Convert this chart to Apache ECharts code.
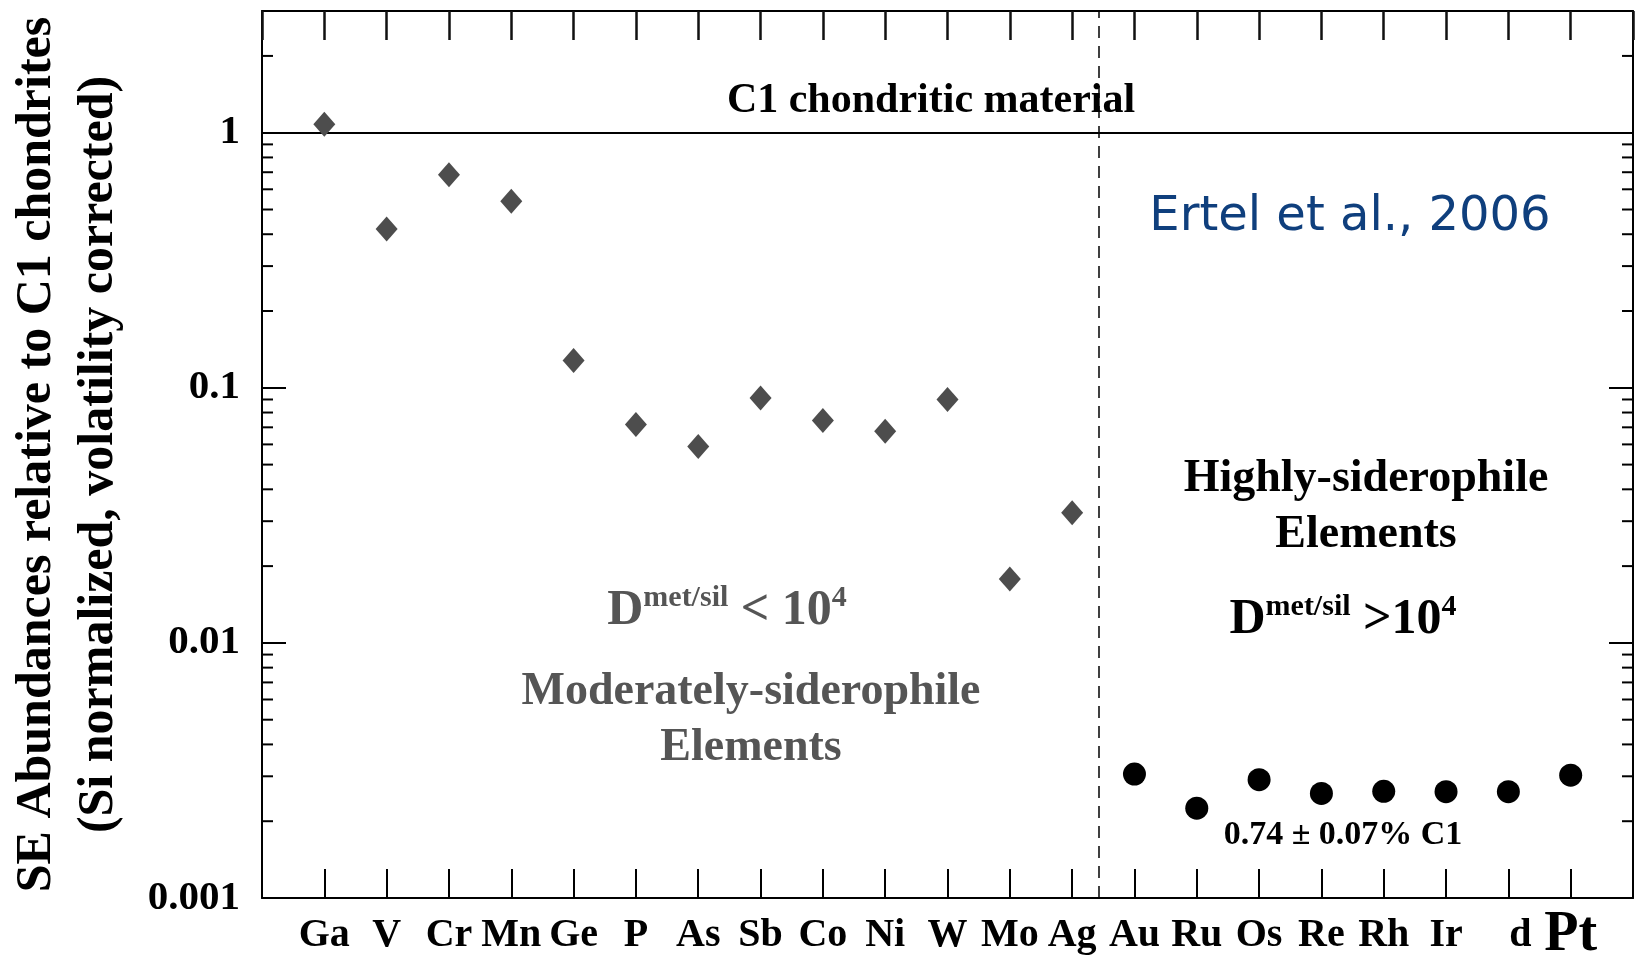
<!DOCTYPE html>
<html><head><meta charset="utf-8">
<script src="https://cdn.jsdelivr.net/npm/echarts@6/dist/echarts.min.js"></script>
<style>html,body{margin:0;padding:0;background:#fff}#c{width:1638px;height:957px}</style>
</head><body><div id="c"></div>
<script>
// ---- data ----
const elements = ['Ga','V','Cr','Mn','Ge','P','As','Sb','Co','Ni','W','Mo','Ag','Au','Ru','Os','Re','Rh','Ir','d','Pt'];
const moderateElements = ['Ga','V','Cr','Mn','Ge','P','As','Sb','Co','Ni','W','Mo','Ag'];
const moderateValues = [1.079,0.419,0.685,0.539,0.128,0.0718,0.0589,0.0912,0.0744,0.0676,0.0899,0.0178,0.0324];
const highlyElements = ['Au','Ru','Os','Re','Rh','Ir','d','Pt'];
const highlyValues = [0.00306,0.00225,0.00291,0.00257,0.00262,0.00261,0.00261,0.00303];
const yTickLabels = ['0.001','0.01','0.1','1'];
const yMin = 0.001, yMax = 3;
const minorMultipliers = [2,3,4,5,6,7,8,9];
const decades = [0.001,0.01,0.1,1];
const c1Level = 1;
const boundaryX = 12.43;

// ---- build ----
const serif = 'Liberation Serif';
const modData = moderateValues.map((v,i)=>[elements.indexOf(moderateElements[i]), v]);
const hsData = highlyValues.map((v,i)=>[elements.indexOf(highlyElements[i]), v]);
const minorData = [];
decades.forEach(d => minorMultipliers.forEach(m => { if (d*m < yMax) minorData.push([-1, d*m]); }));

const xLabel = v => {
  if (v < 0 || v >= elements.length || v !== Math.round(v)) return '';
  const n = elements[v];
  if (n === 'Pt') return '{pt|Pt}';
  if (n === 'd') return '{pd|d}';
  return n;
};
const yLabel = v => {
  const l = Math.log10(v), k = Math.round(l);
  if (Math.abs(l - k) > 1e-6) return '';
  return yTickLabels[k + 3] || '';
};

const mkX = (pos) => ({
  type:'value', min:-1, max:21, interval:1, position:pos, gridIndex:0,
  axisLine:{show:true, onZero:false, lineStyle:{color:'#000', width:2}},
  axisTick:{show:true, inside:true, length:29, lineStyle:{color:'#000', width:2}},
  splitLine:{show:false}
});
const mkY = (pos) => ({
  type:'log', logBase:10, min:yMin, max:yMax, position:pos, gridIndex:0,
  axisLine:{show:true, onZero:false, lineStyle:{color:'#000', width:2}},
  axisTick:{show:true, inside:true, length:24, lineStyle:{color:'#000', width:2}},
  splitLine:{show:false}, minorTick:{show:false}
});
const lblFont = {fontFamily:serif, fontWeight:'bold', color:'#000'};

const xBottom = mkX('bottom');
xBottom.axisLabel = Object.assign({show:true, formatter:xLabel, margin:18, fontSize:40, lineHeight:40,
  rich:{
    pt:Object.assign({fontSize:56, lineHeight:40}, lblFont),
    pd:Object.assign({fontSize:40, lineHeight:40, padding:[0,0,0,24]}, lblFont)
  }}, lblFont);
const xTop = mkX('top');
xTop.axisLabel = {show:false};
xTop.axisTick = {show:true, inside:true, length:29, lineStyle:{color:'#111', width:2.5}};

const yLeft = mkY('left');
yLeft.axisLabel = Object.assign({show:true, formatter:yLabel, margin:22, fontSize:41, showMaxLabel:false}, lblFont);
yLeft.name = 'SE Abundances relative to C1 chondrites\n(Si normalized, volatility corrected)';
yLeft.nameLocation = 'middle';
yLeft.nameRotate = 90;
yLeft.nameGap = 132;
yLeft.nameTextStyle = {fontFamily:serif, fontWeight:'bold', fontSize:50, lineHeight:62, color:'#000'};
const yRight = mkY('right');
yRight.axisLabel = {show:false};

const chart = echarts.init(document.getElementById('c'));
chart.setOption({
  animation:false,
  backgroundColor:'#fff',
  grid:{left:262, top:11, width:1371, height:887, containLabel:false, outerBoundsMode:'none'},
  xAxis:[xBottom, xTop],
  yAxis:[yLeft, yRight],
  series:[
    {type:'scatter', name:'Moderately-siderophile', xAxisIndex:0, yAxisIndex:0, data:modData,
      symbol:'diamond', symbolSize:[22,25], itemStyle:{color:'#4d4d4d', opacity:1}, z:5,
      markLine:{silent:true, symbol:['none','none'], label:{show:false},
        data:[
          {yAxis:c1Level, lineStyle:{color:'#000', width:2, type:'solid'}},
          {xAxis:boundaryX, lineStyle:{color:'#000', width:1.5, type:[12,8]}}
        ]}},
    {type:'scatter', name:'Highly-siderophile', xAxisIndex:0, yAxisIndex:0, data:hsData,
      symbol:'circle', symbolSize:23, itemStyle:{color:'#000', opacity:1}, z:5},
    {type:'custom', name:'minorTicks', xAxisIndex:0, yAxisIndex:0, data:minorData, silent:true, z:3,
      renderItem:(params, api) => {
        const cs = params.coordSys;
        const y = api.coord([api.value(0), api.value(1)])[1];
        const st = {stroke:'#000', lineWidth:2};
        return {type:'group', children:[
          {type:'line', shape:{x1:cs.x, y1:y, x2:cs.x+11, y2:y}, style:st},
          {type:'line', shape:{x1:cs.x+cs.width-11, y1:y, x2:cs.x+cs.width, y2:y}, style:st}
        ]};
      }}
  ],
  graphic:[
    {type:'text', x:931, y:101, style:{text:'C1 chondritic material', font:'bold 42px "Liberation Serif"', fill:'#000', align:'center', verticalAlign:'middle'}},
    {type:'text', x:1350, y:218, style:{text:'Ertel et al., 2006', font:'48px "DejaVu Sans"', fill:'#0f3f7d', align:'center', verticalAlign:'middle'}},
    {type:'text', x:1366, y:507, style:{text:'Highly-siderophile\nElements', font:'bold 46px "Liberation Serif"', lineHeight:56, fill:'#000', align:'center', verticalAlign:'middle'}},
    {type:'text', x:1343, y:620, style:{text:'{D|D}{s|met/sil}{t| >10}{s|4}', align:'center', verticalAlign:'middle',
      rich:{
        D:{font:'bold 50px "Liberation Serif"', fill:'#000', lineHeight:56},
        t:{font:'bold 50px "Liberation Serif"', fill:'#000', lineHeight:56},
        s:{font:'bold 30px "Liberation Serif"', fill:'#000', lineHeight:30, verticalAlign:'top'}
      }}},
    {type:'text', x:727, y:611, style:{text:'{D|D}{s|met/sil}{t| < 10}{s|4}', align:'center', verticalAlign:'middle',
      rich:{
        D:{font:'bold 50px "Liberation Serif"', fill:'#555', lineHeight:56},
        t:{font:'bold 50px "Liberation Serif"', fill:'#555', lineHeight:56},
        s:{font:'bold 30px "Liberation Serif"', fill:'#555', lineHeight:30, verticalAlign:'top'}
      }}},
    {type:'text', x:751, y:720, style:{text:'Moderately-siderophile\nElements', font:'bold 46px "Liberation Serif"', lineHeight:56, fill:'#555', align:'center', verticalAlign:'middle'}},
    {type:'text', x:1343, y:835, style:{text:'0.74 ± 0.07% C1', font:'bold 34px "Liberation Serif"', fill:'#000', align:'center', verticalAlign:'middle'}}
  ]
});
</script>
</body></html>
